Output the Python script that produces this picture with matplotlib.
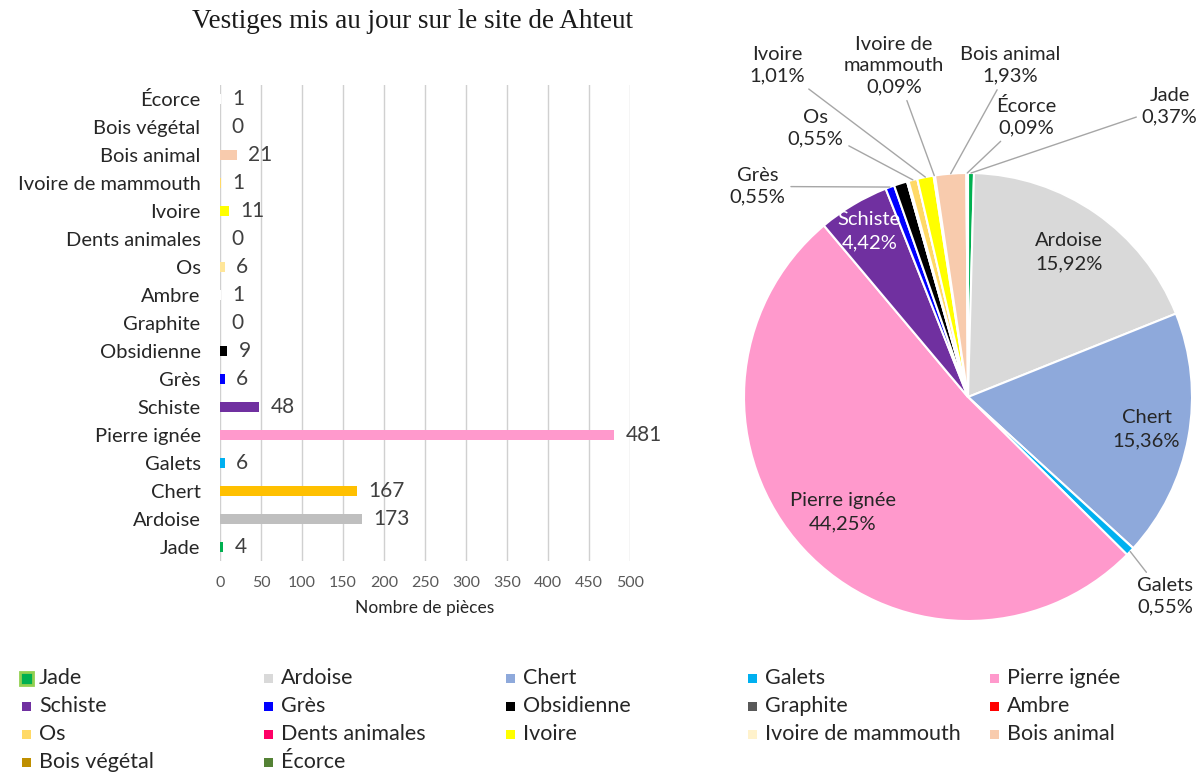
import numpy as np
import matplotlib
matplotlib.use("Agg")
import matplotlib.pyplot as plt
from matplotlib.patches import Rectangle

plt.rcParams['font.family'] = ['Lato', 'DejaVu Sans']

# data (bottom -> top in the bar chart, clockwise in the pie)
categories = ['Jade', 'Ardoise', 'Chert', 'Galets', 'Pierre ignée', 'Schiste', 'Grès',
              'Obsidienne', 'Graphite', 'Ambre', 'Os', 'Dents animales', 'Ivoire',
              'Ivoire de mammouth', 'Bois animal', 'Bois végétal', 'Écorce']
counts = [4, 173, 167, 6, 481, 48, 6, 9, 0, 1, 6, 0, 11, 1, 21, 0, 1]
# percentages printed on the pie ('' = no label)
pie_pct = ['0,37%', '15,92%', '15,36%', '0,55%', '44,25%', '4,42%', '0,55%',
           '', '', '', '0,55%', '', '1,01%', '0,09%', '1,93%', '', '0,09%']

pie_colors = ['#00B050', '#D9D9D9', '#8EA9DB', '#00B0F0', '#FF99CC', '#7030A0', '#0000FF',
              '#000000', '#595959', '#FF0000', '#FFD966', '#FF0066', '#FFFF00',
              '#FFF2CC', '#F8CBAD', '#BF8F00', '#548235']
bar_colors = ['#00B050', '#BFBFBF', '#FFC000', '#00B0F0', '#FF99CC', '#7030A0', '#0000FF',
              '#000000', '#595959', '#FFFFFF', '#FFE699', '#FF0066', '#FFFF00',
              '#FFD966', '#F8CBAD', '#BF8F00', '#FFFFFF']

txt = '#404040'
W, H = 1203, 772
fig = plt.figure(figsize=(W / 100, H / 100), dpi=100)

# ---- bar chart ----
ax = fig.add_axes([220 / W, 1 - 561 / H, 410 / W, 476 / H])
y = np.arange(len(categories))
bars = ax.barh(y, counts, height=0.34, color=bar_colors)
ax.set_xlim(0, 500)
ax.set_ylim(-0.5, len(categories) - 0.5)
ax.set_xticks(np.arange(0, 501, 50))
ax.set_yticks(y)
ax.set_yticklabels(categories, fontsize=14.5, color='#262626')
ax.tick_params(axis='y', length=0, pad=14)
ax.tick_params(axis='x', length=0, pad=11, labelsize=11.5, labelcolor='#595959')
ax.grid(axis='x', color='#D0D0D0', linewidth=1)
ax.set_axisbelow(True)
for s in ax.spines.values():
    s.set_visible(False)
ax.bar_label(bars, labels=[str(c) for c in counts], padding=8, fontsize=15, color=txt)
ax.set_xlabel('Nombre de pièces', fontsize=12.5, color='#262626', labelpad=7)

fig.text(412 / W, 1 - 22 / H, 'Vestiges mis au jour sur le site de Ahteut',
         family='Liberation Serif', fontsize=19.5, ha='center', va='center', color='#1a1a1a')

# ---- pie chart ----
pax = fig.add_axes([744 / W, 1 - 621 / H, 448 / W, 448 / H])
wedges, _ = pax.pie(counts, colors=pie_colors, startangle=90, counterclock=False,
                    radius=1, wedgeprops=dict(edgecolor='white', linewidth=1.5))
pax.set_xlim(-1, 1)
pax.set_ylim(-1, 1)
pax.set_aspect('equal')

inside = {'Ardoise': (0.79, '#262626'), 'Chert': (0.81, '#262626'),
          'Pierre ignée': (0.76, '#262626'), 'Schiste': (0.86, 'white')}
outside = {'Galets': (0.88, -0.89), 'Grès': (-0.94, 0.94), 'Os': (-0.68, 1.20),
           'Ivoire': (-0.85, 1.48), 'Ivoire de mammouth': (-0.33, 1.48),
           'Bois animal': (0.19, 1.48), 'Écorce': (0.26, 1.25), 'Jade': (0.90, 1.30)}

for w, name, pct in zip(wedges, categories, pie_pct):
    if not pct:
        continue
    mid = np.deg2rad((w.theta1 + w.theta2) / 2)
    if name in inside:
        r, c = inside[name]
        pax.text(r * np.cos(mid), r * np.sin(mid), f'{name}\n{pct}', ha='center',
                 va='center', fontsize=14.5, color=c, linespacing=1.45)
    else:
        lab = 'Ivoire de\nmammouth' if name == 'Ivoire de mammouth' else name
        pax.annotate(f'{lab}\n{pct}', xy=(np.cos(mid), np.sin(mid)), xytext=outside[name],
                     ha='center', va='center', fontsize=14.5, color='#262626',
                     linespacing=1.3, annotation_clip=False,
                     arrowprops=dict(arrowstyle='-', color='#A6A6A6', lw=1,
                                     shrinkA=2, shrinkB=0))

# ---- legend (5 columns, row-major like the original) ----
for i, (name, c) in enumerate(zip(categories, pie_colors)):
    row, col = divmod(i, 5)
    x0 = (22 + col * 242) / W
    yc = 1 - (678 + row * 28) / H
    if name == 'Jade':
        fig.add_artist(Rectangle((x0 - 2 / W, yc - 7 / H), 13 / W, 13 / H,
                                 facecolor=c, edgecolor='#92D050', linewidth=2,
                                 transform=fig.transFigure))
    else:
        fig.add_artist(Rectangle((x0, yc - 5 / H), 9 / W, 9 / H, facecolor=c,
                                 edgecolor='none', transform=fig.transFigure))
    fig.text(x0 + 17 / W, yc, name, fontsize=15.5, va='center', ha='left', color='#262626')

fig.savefig('out.png', dpi=100)
